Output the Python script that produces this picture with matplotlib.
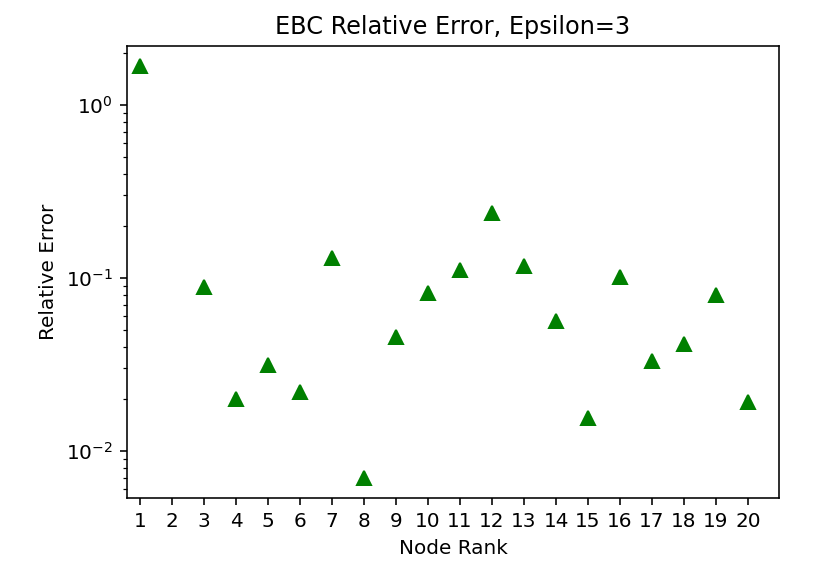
import numpy as np
import matplotlib
matplotlib.use('Agg')
import matplotlib.pyplot as plt

# node rank 2 has no value (zero error, not shown on log scale)
ranks = [1, 3, 4, 5, 6, 7, 8, 9, 10, 11, 12, 13, 14, 15, 16, 17, 18, 19, 20]
rel_err = [1.68, 0.0887, 0.0200, 0.0314, 0.0219, 0.1305, 0.00698, 0.0456, 0.0819,
           0.111, 0.2375, 0.117, 0.0564, 0.0155, 0.101, 0.0331, 0.0415, 0.0798, 0.0192]
tick_labels = [str(i) for i in range(1, 21)]

fig = plt.figure(figsize=(5.75, 4.014), dpi=144)
ax = fig.add_axes([0.1534, 0.1384, 0.7874, 0.782])
ax.plot(ranks, rel_err, '^', color='green', markersize=7)
ax.set_yscale('log')
ax.set_xticks(range(1, 21))
ax.set_xticklabels(tick_labels)
ax.set_xlim(0.59, 20.97)
ax.set_ylim(0.00535, 2.19)
ax.set_title('EBC Relative Error, Epsilon=3')
ax.set_xlabel('Node Rank')
ax.set_ylabel('Relative Error')
fig.savefig('out.png', dpi=144)
